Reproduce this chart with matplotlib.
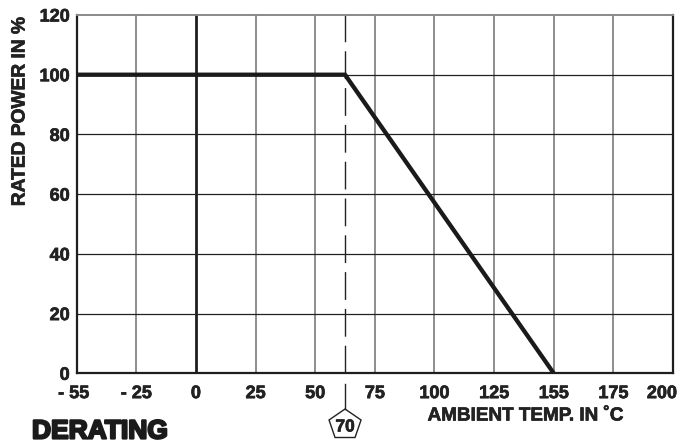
import matplotlib
matplotlib.use("Agg")
import matplotlib.pyplot as plt
import matplotlib.transforms as mtransforms
from matplotlib.patches import Polygon
import matplotlib.patheffects as pe

# ---- data ----
curve_temp = [-50, 62.5, 150]          # axis positions of the derating curve
curve_power = [100, 100, 0]
knee_temp = 62.5
knee_label = "70"
x_ticks = [-50, -25, 0, 25, 50, 75, 100, 125, 150, 175, 200]
x_tick_labels = ["- 55", "- 25", "0", "25", "50", "75", "100", "125", "155", "175", "200"]
y_ticks = [0, 20, 40, 60, 80, 100, 120]
y_tick_labels = ["0", "20", "40", "60", "80", "100", "120"]

W, H = 679, 443
fig = plt.figure(figsize=(W / 100, H / 100), dpi=100)
ax = fig.add_axes([76.7 / W, 1 - 373.3 / H, (673 - 76.7) / W, (373.3 - 15) / H])
ax.set_xlim(-50, 200)
ax.set_ylim(0, 120)

font = "Liberation Sans"
tc = "#222222"
thick = [pe.withStroke(linewidth=0.5, foreground=tc)]

# grid
for xv in x_ticks[1:-1]:
    if xv == 0:
        ax.axvline(xv, color="#1e1e1e", lw=2.0, zorder=1)
    else:
        ax.axvline(xv, color="#6f6f6f", lw=1.1, zorder=1)
for yv in y_ticks[1:-1]:
    ax.axhline(yv, color="#222222", lw=0.9, zorder=1)

# dashed knee line
ax.axvline(knee_temp, color="#222222", lw=1.0, dashes=(20, 6.5), zorder=1)

# derating curve
ax.plot(curve_temp, curve_power, color="#1a1a1a", lw=3.1, solid_capstyle="butt",
        solid_joinstyle="miter", zorder=3)

# spines
for side in ["left", "bottom", "right"]:
    ax.spines[side].set_color("#1e1e1e")
    ax.spines[side].set_linewidth(1.6)
ax.spines["top"].set_color("#8a8a8a")
ax.spines["top"].set_linewidth(1.4)

ax.set_xticks(x_ticks)
ax.set_xticklabels(x_tick_labels, fontfamily=font, fontweight="bold", fontsize=13, color=tc)
ax.set_yticks(y_ticks)
ax.set_yticklabels(y_tick_labels, fontfamily=font, fontweight="bold", fontsize=13, color=tc)
ax.tick_params(axis="both", length=0)
ax.tick_params(axis="x", pad=8.5)
ax.tick_params(axis="y", pad=5)
for lab in ax.get_xticklabels() + ax.get_yticklabels():
    lab.set_path_effects(thick)
xl = ax.get_xticklabels()
xl[0].set_transform(xl[0].get_transform() + mtransforms.ScaledTranslation(-3 / 100, 0, fig.dpi_scale_trans))
xl[-1].set_transform(xl[-1].get_transform() + mtransforms.ScaledTranslation(-11 / 100, 0, fig.dpi_scale_trans))

# axis titles
fig.text(20 / W, 1 - 112 / H, "RATED POWER IN %", rotation=90, ha="center", va="center",
         fontfamily=font, fontweight="bold", fontsize=13.8, color=tc, path_effects=thick)
fig.text(525.5 / W, 1 - 416 / H, "AMBIENT TEMP. IN ˚C", ha="center", va="center",
         fontfamily=font, fontweight="bold", fontsize=13.6, color=tc, path_effects=thick)

# knee marker below axis
kx = ax.transData.transform((knee_temp, 0))[0]
fig.add_artist(plt.Line2D([kx, kx], [H - 384, H - 409], color="#222222", lw=1.0,
                          transform=None))
pent_pts = [(kx, H - 409), (kx + 16, H - 420), (kx + 10, H - 437.5),
            (kx - 10, H - 437.5), (kx - 16, H - 420)]
fig.add_artist(Polygon(pent_pts, closed=True, facecolor="white", edgecolor="#222222",
                       lw=1.0, transform=None))
fig.text(kx / W, 1 - 427 / H, knee_label, ha="center", va="center",
         fontfamily=font, fontweight="bold", fontsize=12.5, color=tc, path_effects=thick)

# title
fig.text(32 / W, 1 - 438.5 / H, "DERATING", ha="left", va="baseline",
         fontfamily=font, fontweight="bold", fontsize=19, color="#1a1a1a",
         path_effects=[pe.withStroke(linewidth=1.6, foreground="#1a1a1a")])

fig.savefig("out.png", dpi=100)
